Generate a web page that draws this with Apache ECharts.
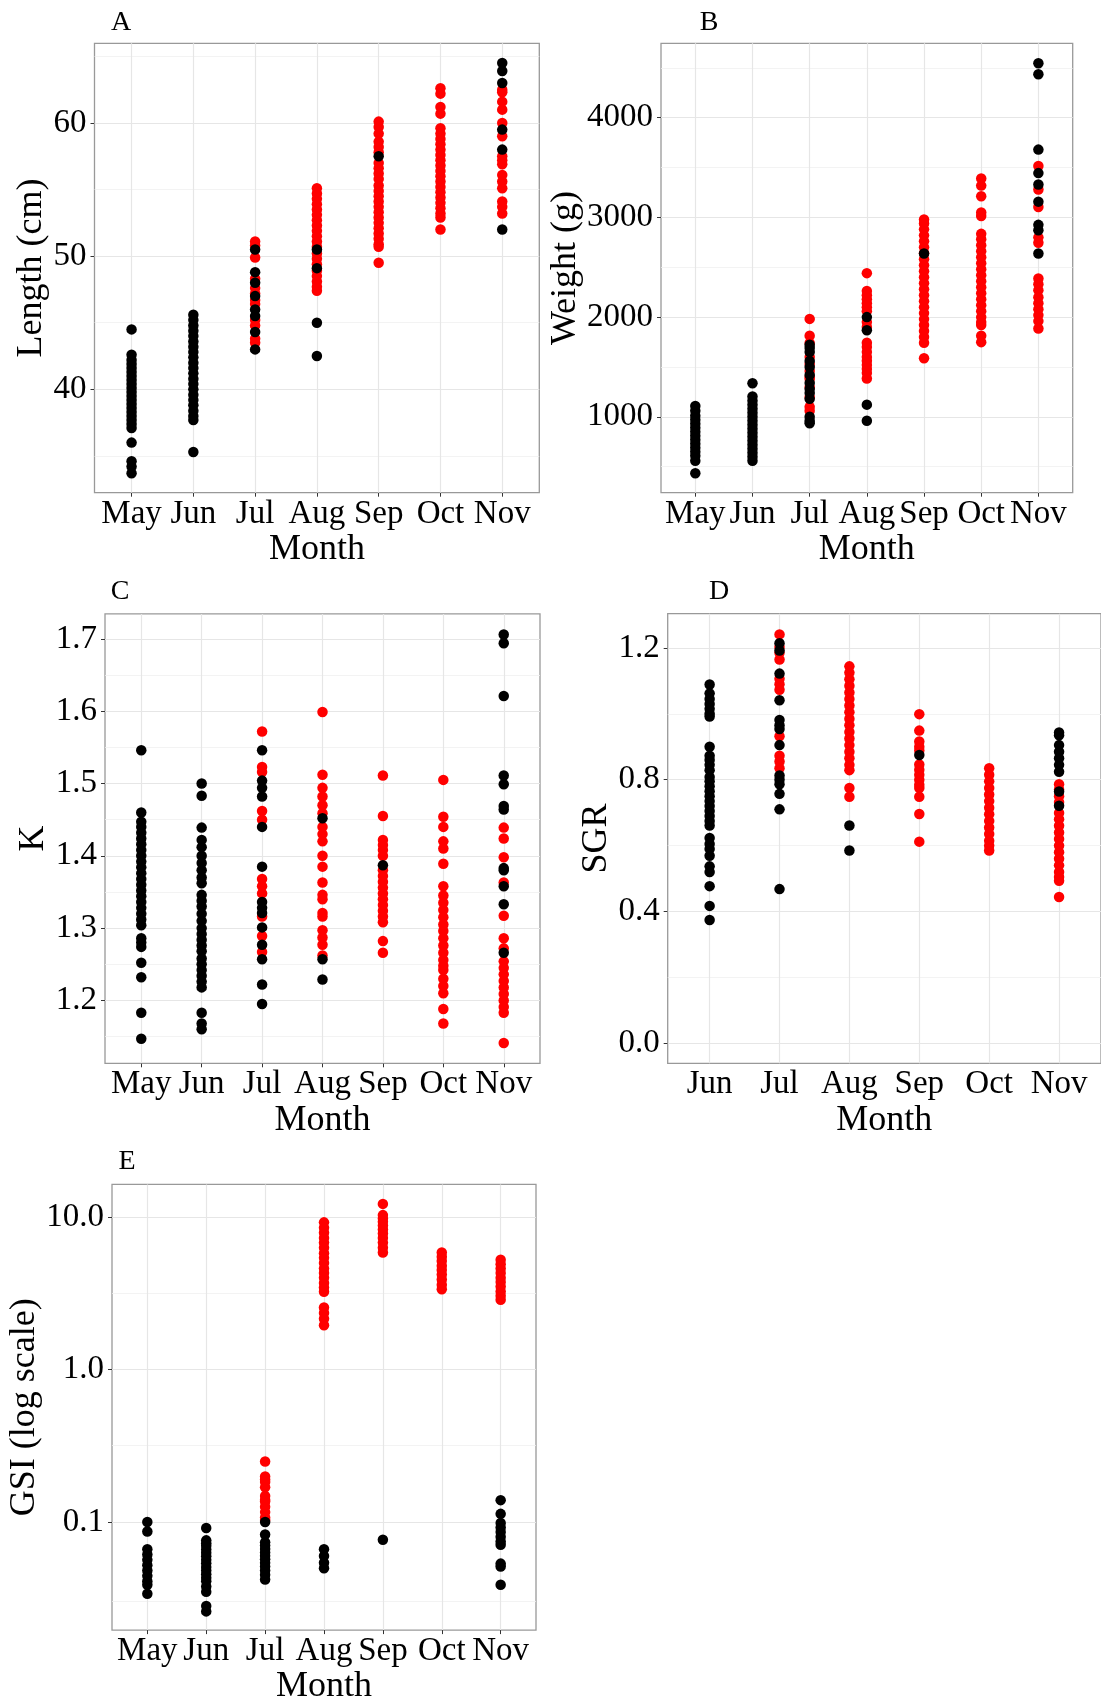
<!DOCTYPE html>
<html>
<head>
<meta charset="utf-8">
<script src="https://cdn.jsdelivr.net/npm/echarts@6/dist/echarts.min.js"></script>
<style>
html, body { margin: 0; padding: 0; background: #fff; }
#chart { width: 1101px; height: 1706px; }
</style>
</head>
<body>
<div id="chart"></div>
<script>
const monthsAll = ['May', 'Jun', 'Jul', 'Aug', 'Sep', 'Oct', 'Nov']
const monthsSgr = ['Jun', 'Jul', 'Aug', 'Sep', 'Oct', 'Nov']

// A - Length (cm), one list per month (May..Nov)
const lengthRed = [
  [],
  [],
  [51.1, 50.8, 49.9, 48.3, 47.6, 47.2, 46.7, 46.4, 45.2, 44.8, 43.8, 43.5],
  [55.1, 54.7, 54.3, 53.9, 53.5, 53.1, 52.7, 52.3, 51.9, 51.5, 51.1, 50.7, 50.2, 49.8, 49.4, 48.9, 48.5, 48.1, 47.7, 47.4],
  [60.1, 59.7, 59.2, 58.6, 58.2, 57.8, 57.0, 56.6, 56.2, 55.8, 55.3, 54.9, 54.5, 54.1, 53.7, 53.3, 52.9, 52.5, 52.1, 51.7, 51.3, 50.9, 50.7, 49.5],
  [62.6, 62.2, 61.2, 60.7, 59.6, 59.2, 58.8, 58.4, 58.0, 57.6, 57.2, 56.8, 56.4, 56.0, 55.6, 55.2, 54.8, 54.4, 54.0, 53.6, 53.2, 52.9, 52.0],
  [62.5, 62.3, 61.6, 61.0, 60.0, 59.0, 57.5, 57.2, 56.9, 56.1, 55.6, 55.1, 54.1, 53.7, 53.2]
]
const lengthBlack = [
  [44.5, 42.6, 42.2, 41.9, 41.6, 41.3, 41.0, 40.7, 40.4, 40.1, 39.8, 39.5, 39.2, 38.9, 38.6, 38.3, 38.0, 37.7, 37.4, 37.1, 36.0, 34.6, 34.2, 33.7],
  [45.6, 45.2, 44.8, 44.4, 44.0, 43.6, 43.2, 42.8, 42.4, 42.0, 41.6, 41.2, 40.8, 40.4, 40.0, 39.6, 39.2, 38.8, 38.4, 38.0, 37.7, 35.3],
  [50.5, 48.8, 48.0, 47.0, 46.0, 45.5, 44.3, 43.0],
  [50.5, 49.1, 45.0, 42.5],
  [57.5],
  [],
  [64.5, 63.9, 63.0, 59.5, 58.0, 52.0]
]
const lengthTicks = [40, 50, 60]
const lengthMinor = [35, 45, 55, 65]

// B - Weight (g)
const weightRed = [
  [],
  [],
  [1982, 1814, 1740, 1600, 1530, 1460, 1400, 1380, 1300, 1200, 1100, 1060],
  [2441, 2262, 2220, 2180, 2140, 2100, 2060, 1950, 1900, 1742, 1700, 1650, 1600, 1563, 1520, 1480, 1440, 1384],
  [2979, 2940, 2880, 2820, 2760, 2700, 2640, 2580, 2520, 2460, 2400, 2340, 2280, 2220, 2160, 2100, 2040, 1980, 1920, 1860, 1800, 1742, 1588],
  [3391, 3319, 3212, 3050, 3014, 2835, 2780, 2720, 2660, 2600, 2540, 2480, 2420, 2360, 2300, 2240, 2180, 2120, 2060, 2000, 1950, 1921, 1814, 1749],
  [3516, 3280, 3104, 2800, 2746, 2387, 2330, 2270, 2200, 2140, 2080, 2020, 1960, 1885]
]
const weightBlack = [
  [1108, 1060, 1010, 970, 930, 890, 850, 810, 770, 730, 690, 650, 610, 560, 434],
  [1337, 1204, 1160, 1120, 1080, 1040, 1000, 960, 920, 880, 840, 800, 760, 720, 680, 640, 600, 560],
  [1724, 1690, 1650, 1560, 1500, 1420, 1340, 1280, 1240, 1180, 1000, 960, 936],
  [2000, 1868, 1122, 961],
  [2638],
  [],
  [4546, 4435, 3680, 3444, 3330, 3158, 2925, 2871, 2638]
]
const weightTicks = [1000, 2000, 3000, 4000]
const weightMinor = [500, 1500, 2500, 3500, 4500]

// C - K
const kRed = [
  [],
  [],
  [1.572, 1.523, 1.516, 1.462, 1.450, 1.368, 1.358, 1.348, 1.316, 1.289, 1.267],
  [1.599, 1.512, 1.494, 1.482, 1.470, 1.459, 1.440, 1.430, 1.420, 1.400, 1.385, 1.363, 1.346, 1.340, 1.321, 1.316, 1.297, 1.287, 1.277, 1.262],
  [1.511, 1.455, 1.422, 1.415, 1.408, 1.400, 1.380, 1.372, 1.364, 1.356, 1.348, 1.340, 1.332, 1.324, 1.316, 1.308, 1.282, 1.266],
  [1.505, 1.454, 1.440, 1.420, 1.410, 1.389, 1.358, 1.345, 1.335, 1.325, 1.315, 1.305, 1.296, 1.286, 1.276, 1.266, 1.256, 1.248, 1.242, 1.230, 1.220, 1.210, 1.188, 1.168],
  [1.439, 1.424, 1.398, 1.363, 1.317, 1.286, 1.272, 1.254, 1.245, 1.236, 1.227, 1.218, 1.209, 1.200, 1.191, 1.183, 1.141]
]
const kBlack = [
  [1.546, 1.460, 1.447, 1.440, 1.432, 1.424, 1.416, 1.408, 1.400, 1.392, 1.384, 1.376, 1.368, 1.360, 1.352, 1.344, 1.336, 1.328, 1.320, 1.312, 1.304, 1.286, 1.280, 1.274, 1.252, 1.232, 1.183, 1.147],
  [1.500, 1.483, 1.439, 1.422, 1.412, 1.400, 1.390, 1.380, 1.370, 1.362, 1.346, 1.338, 1.330, 1.320, 1.310, 1.300, 1.292, 1.284, 1.276, 1.268, 1.258, 1.250, 1.242, 1.234, 1.226, 1.218, 1.183, 1.168, 1.160],
  [1.546, 1.504, 1.494, 1.482, 1.440, 1.385, 1.336, 1.328, 1.321, 1.301, 1.277, 1.257, 1.222, 1.195],
  [1.452, 1.257, 1.229],
  [1.387],
  [],
  [1.706, 1.694, 1.621, 1.511, 1.499, 1.469, 1.464, 1.383, 1.380, 1.358, 1.333, 1.266]
]
const kTicks = [1.2, 1.3, 1.4, 1.5, 1.6, 1.7]
const kMinor = [1.15, 1.25, 1.35, 1.45, 1.55, 1.65]

// D - SGR, one list per month (Jun..Nov)
const sgrRed = [
  [],
  [1.241, 1.203, 1.185, 1.165, 1.106, 1.090, 1.073, 0.932, 0.873, 0.855, 0.835],
  [1.144, 1.125, 1.105, 1.085, 1.065, 1.045, 1.025, 1.005, 0.985, 0.965, 0.945, 0.925, 0.905, 0.885, 0.865, 0.845, 0.829, 0.775, 0.748],
  [0.999, 0.949, 0.916, 0.900, 0.889, 0.846, 0.830, 0.815, 0.800, 0.785, 0.775, 0.748, 0.696, 0.612],
  [0.835, 0.815, 0.795, 0.775, 0.755, 0.735, 0.715, 0.695, 0.675, 0.655, 0.635, 0.615, 0.600, 0.585],
  [0.786, 0.770, 0.750, 0.732, 0.699, 0.680, 0.660, 0.640, 0.620, 0.600, 0.580, 0.560, 0.540, 0.520, 0.505, 0.493, 0.444]
]
const sgrBlack = [
  [1.089, 1.062, 1.045, 1.030, 1.015, 1.000, 0.992, 0.900, 0.873, 0.860, 0.845, 0.829, 0.808, 0.795, 0.780, 0.765, 0.750, 0.735, 0.720, 0.705, 0.690, 0.675, 0.661, 0.623, 0.605, 0.590, 0.569, 0.537, 0.520, 0.477, 0.417, 0.374],
  [1.214, 1.192, 1.122, 1.041, 0.981, 0.965, 0.954, 0.905, 0.813, 0.800, 0.786, 0.757, 0.710, 0.468],
  [0.661, 0.585],
  [0.875],
  [],
  [0.943, 0.935, 0.905, 0.885, 0.865, 0.845, 0.824, 0.764, 0.721]
]
const sgrTicks = [0.0, 0.4, 0.8, 1.2]
const sgrMinor = [0.2, 0.6, 1.0]

// E - GSI (log scale)
const gsiRed = [
  [],
  [],
  [0.249, 0.199, 0.190, 0.183, 0.169, 0.148, 0.140, 0.136, 0.126, 0.116, 0.107, 0.103],
  [9.23, 8.5, 7.9, 7.3, 6.8, 6.3, 5.8, 5.4, 5.0, 4.6, 4.3, 4.0, 3.7, 3.45, 3.24, 2.55, 2.35, 2.15, 1.95],
  [12.2, 10.3, 9.8, 9.3, 8.8, 8.3, 7.8, 7.3, 6.8, 6.3, 5.85],
  [5.85, 5.5, 5.15, 4.8, 4.5, 4.2, 3.9, 3.6, 3.36],
  [5.25, 4.9, 4.6, 4.3, 4.0, 3.75, 3.5, 3.25, 3.05, 2.87]
]
const gsiBlack = [
  [0.100, 0.0865, 0.0662, 0.0611, 0.0564, 0.0520, 0.0480, 0.0443, 0.0408, 0.0387, 0.0338],
  [0.0912, 0.0757, 0.0725, 0.0698, 0.0660, 0.0627, 0.0595, 0.0564, 0.0535, 0.0506, 0.0480, 0.0454, 0.0430, 0.0408, 0.0377, 0.0348, 0.0281, 0.0259],
  [0.100, 0.0828, 0.0736, 0.0700, 0.0665, 0.0630, 0.0600, 0.0570, 0.0540, 0.0510, 0.0480, 0.0450, 0.0419],
  [0.0662, 0.0598, 0.0540, 0.0497],
  [0.0764],
  [],
  [0.139, 0.113, 0.0985, 0.092, 0.086, 0.080, 0.0745, 0.0708, 0.0533, 0.0510, 0.0387]
]
const gsiTicks = [0.1, 1, 10]
const gsiMinor = [0.0316, 0.316, 3.16]

const font = "'Liberation Serif', 'Times New Roman', serif"
const majorLine = { color: '#e6e6e6', width: 1.2, type: 'solid' }
const minorLine = { color: '#f0f0f0', width: 0.8, type: 'solid' }

const panels = [
  { tag: 'A', tagAt: [121, 23], grid: { left: 94.5, top: 43.3, width: 444.8, height: 449.4 },
    months: monthsAll, red: lengthRed, black: lengthBlack, ticks: lengthTicks, minor: lengthMinor,
    min: 32.24, max: 65.98, digits: 0, name: 'Length (cm)', nameGap: 33, xGap: 31 },
  { tag: 'B', tagAt: [709, 23], grid: { left: 661, top: 43.3, width: 411.7, height: 449.4 },
    months: monthsAll, red: weightRed, black: weightBlack, ticks: weightTicks, minor: weightMinor,
    min: 239, max: 4746, digits: 0, name: 'Weight (g)', nameGap: 69, xGap: 31 },
  { tag: 'C', tagAt: [120, 592], grid: { left: 105, top: 613.9, width: 435, height: 449.4 },
    months: monthsAll, red: kRed, black: kBlack, ticks: kTicks, minor: kMinor,
    min: 1.113, max: 1.7346, digits: 1, name: 'K', nameGap: 51, xGap: 31 },
  { tag: 'D', tagAt: [719, 592], grid: { left: 667.7, top: 613.7, width: 437.1, height: 449.6 },
    months: monthsSgr, red: sgrRed, black: sgrBlack, ticks: sgrTicks, minor: sgrMinor,
    min: -0.0607, max: 1.3038, digits: 1, name: 'SGR', nameGap: 48, xGap: 31 },
  { tag: 'E', tagAt: [127, 1162], grid: { left: 112, top: 1184.4, width: 424, height: 452.7 },
    months: monthsAll, red: gsiRed, black: gsiBlack, ticks: gsiTicks, minor: gsiMinor,
    min: 0.01952, max: 16.38, digits: 1, name: 'GSI (log scale)', nameGap: 49, xGap: 35, log: true }
]

// one [monthIndex, value] pair per fish
const toPoints = (groups) => groups.flatMap((vals, i) => vals.map(v => [i + 1, v]))

const grids = []
const xAxes = []
const yAxes = []
const series = []

panels.forEach((p, i) => {
  const n = p.months.length
  const pos = p.months.map((m, j) => j + 1)
  grids.push(Object.assign({
    show: true, borderColor: '#999', borderWidth: 1.3, backgroundColor: '#fff', containLabel: false
  }, p.grid))

  xAxes.push({
    gridIndex: i, type: 'value', min: 0.4, max: n + 0.6,
    name: 'Month', nameLocation: 'middle', nameGap: p.xGap,
    nameTextStyle: { fontFamily: font, fontSize: 36, color: '#000' },
    axisLine: { show: false },
    axisTick: { show: true, customValues: pos, length: 4, lineStyle: { color: '#333', width: 1 } },
    axisLabel: { customValues: pos, margin: 5, fontFamily: font, fontSize: 33, color: '#000',
      formatter: v => p.months[Math.round(v) - 1] || '' },
    splitLine: { show: false }
  })

  const yAxis = {
    gridIndex: i, min: p.min, max: p.max,
    name: p.name, nameLocation: 'middle', nameGap: p.nameGap, nameRotate: 90,
    nameTextStyle: { fontFamily: font, fontSize: 36, color: '#000' },
    axisLine: { show: false },
    axisTick: { show: true, length: 4, lineStyle: { color: '#333', width: 1 } },
    axisLabel: { margin: 8, fontFamily: font, fontSize: 33, color: '#000',
      formatter: v => Number(v).toFixed(p.digits) },
    splitLine: { show: false }
  }
  if (p.log) {
    yAxis.type = 'log'
    yAxis.logBase = 10
    yAxis.axisLabel.showMinLabel = false
    yAxis.axisLabel.showMaxLabel = false
  } else {
    yAxis.type = 'value'
    yAxis.axisLabel.customValues = p.ticks
    yAxis.axisTick.customValues = p.ticks
  }
  yAxes.push(yAxis)

  const gridLines = [
    ...p.minor.map(v => ({ yAxis: v, lineStyle: minorLine })),
    ...p.ticks.map(v => ({ yAxis: v, lineStyle: majorLine })),
    ...pos.map(v => ({ xAxis: v, lineStyle: majorLine }))
  ]

  series.push({
    type: 'scatter', xAxisIndex: i, yAxisIndex: i, z: 2, silent: true,
    symbol: 'circle', symbolSize: 10.5, itemStyle: { color: '#ff0000', opacity: 1 },
    data: toPoints(p.red),
    markLine: {
      z: 1, silent: true, symbol: ['none', 'none'], animation: false,
      label: { show: false }, emphasis: { disabled: true },
      data: gridLines
    }
  })
  series.push({
    type: 'scatter', xAxisIndex: i, yAxisIndex: i, z: 3, silent: true,
    symbol: 'circle', symbolSize: 10.5, itemStyle: { color: '#000000', opacity: 1 },
    data: toPoints(p.black)
  })
})

const chart = echarts.init(document.getElementById('chart'))
chart.setOption({
  backgroundColor: '#fff',
  animation: false,
  grid: grids,
  xAxis: xAxes,
  yAxis: yAxes,
  series: series,
  graphic: panels.map(p => ({
    type: 'text', x: p.tagAt[0], y: p.tagAt[1],
    style: { text: p.tag, fontSize: 28, fontFamily: font, fill: '#000',
      align: 'center', verticalAlign: 'middle', textAlign: 'center', textVerticalAlign: 'middle' }
  }))
})
</script>
</body>
</html>
